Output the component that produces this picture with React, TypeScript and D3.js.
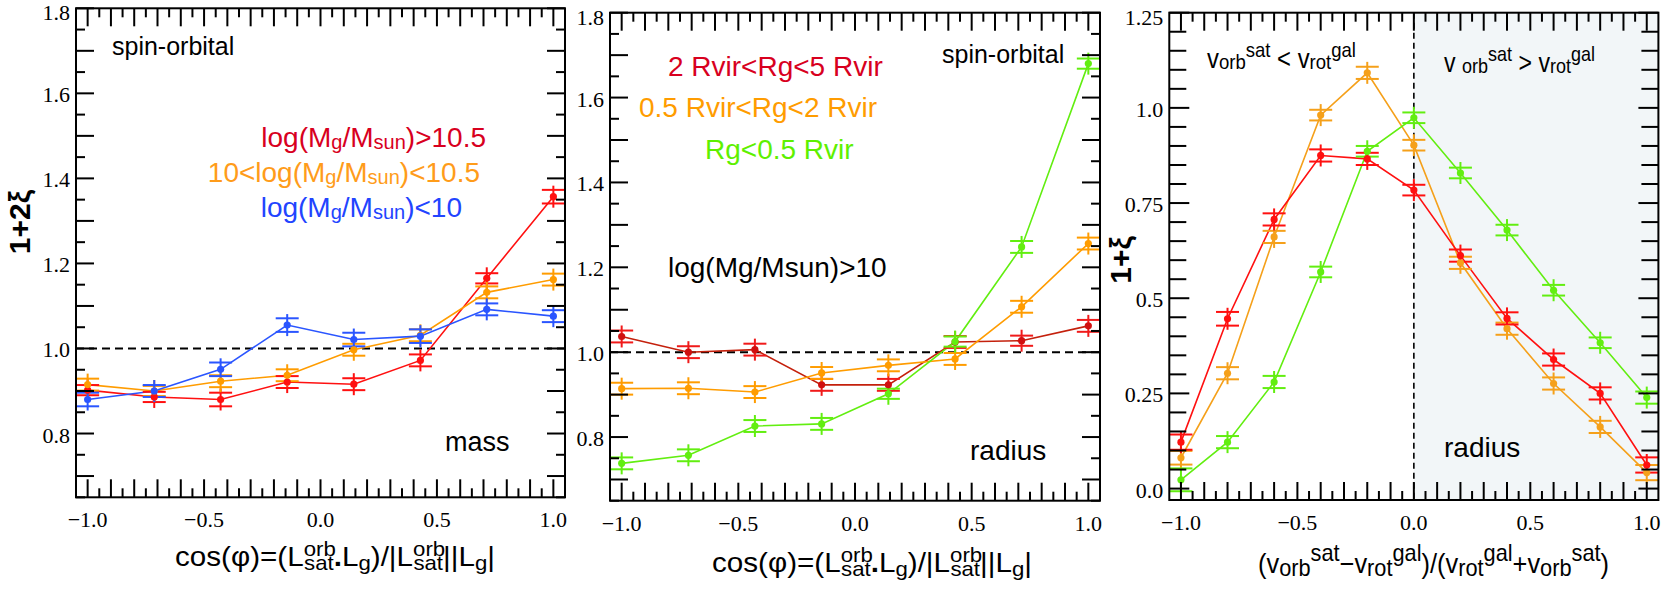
import React from "react";
import * as d3 from "d3";

// ---------- data ----------
const cosX = [-1.0, -0.714, -0.429, -0.143, 0.143, 0.429, 0.714, 1.0];

const massHigh = [0.902, 0.886, 0.88, 0.921, 0.916, 0.972, 1.165, 1.357];
const massHighErr = [0.012, 0.012, 0.016, 0.014, 0.014, 0.014, 0.012, 0.016];
const massMid = [0.915, 0.9, 0.923, 0.937, 0.997, 1.031, 1.132, 1.162];
const massMidErr = [0.014, 0.012, 0.014, 0.014, 0.014, 0.014, 0.014, 0.014];
const massLow = [0.88, 0.9, 0.951, 1.055, 1.021, 1.029, 1.092, 1.076];
const massLowErr = [0.016, 0.014, 0.016, 0.016, 0.016, 0.016, 0.014, 0.014];

const radOuter = [1.037, 1.0, 1.006, 0.923, 0.923, 1.024, 1.027, 1.062];
const radOuterErr = [0.014, 0.014, 0.014, 0.014, 0.014, 0.014, 0.012, 0.014];
const radMid = [0.914, 0.915, 0.906, 0.951, 0.969, 0.984, 1.107, 1.256];
const radMidErr = [0.014, 0.014, 0.014, 0.014, 0.014, 0.014, 0.014, 0.014];
const radInner = [0.738, 0.757, 0.826, 0.831, 0.902, 1.025, 1.248, 1.68];
const radInnerErr = [0.014, 0.014, 0.014, 0.014, 0.012, 0.012, 0.014, 0.012];

const velX = [-1.0, -0.8, -0.6, -0.4, -0.2, 0.0, 0.2, 0.4, 0.6, 0.8, 1.0];
const velOuter = [0.122, 0.446, 0.707, 0.875, 0.866, 0.784, 0.612, 0.447, 0.339, 0.25, 0.062];
const velOuterErr = [0.02, 0.018, 0.016, 0.016, 0.016, 0.014, 0.016, 0.016, 0.016, 0.016, 0.02];
const velMid = [0.081, 0.303, 0.661, 0.981, 1.092, 0.902, 0.593, 0.42, 0.276, 0.162, 0.042];
const velMidErr = [0.018, 0.016, 0.016, 0.014, 0.016, 0.014, 0.016, 0.016, 0.016, 0.016, 0.02];
const velInner = [0.023, 0.122, 0.28, 0.569, 0.886, 0.974, 0.829, 0.679, 0.521, 0.383, 0.239];
const velInnerErr = [0.03, 0.016, 0.016, 0.014, 0.014, 0.014, 0.014, 0.014, 0.014, 0.014, 0.016];

const xTickLabels = [-1.0, -0.5, 0.0, 0.5, 1.0];
const xiTickLabels = [0.8, 1.0, 1.2, 1.4, 1.6, 1.8];
const velTickLabels = [0.0, 0.25, 0.5, 0.75, 1.0, 1.25];

// ---------- styles ----------
const SANS = "'Liberation Sans', Arial, sans-serif";
const SERIF = "'Liberation Serif', 'Times New Roman', serif";

type Box = { l: number; r: number; t: number; b: number };
type Ser = { x: number[]; y: number[]; e: number[]; line: string; bar: string; dot: string };
type Seg = { t: string; s?: number; sh?: number; dx?: number; b?: boolean };

function Rich(props: {
  x: number; y: number; segs: Seg[]; size: number; fill?: string;
  anchor?: string; family?: string; weight?: string; transform?: string; len?: number;
}) {
  let prev = 0;
  return (
    <text
      x={props.x}
      y={props.y}
      fontSize={props.size}
      fill={props.fill ?? "#000"}
      textAnchor={props.anchor ?? "start"}
      fontFamily={props.family ?? SANS}
      fontWeight={props.weight}
      transform={props.transform}
      textLength={props.len}
      lengthAdjust={props.len ? "spacingAndGlyphs" : undefined}
      style={{ whiteSpace: "pre" }}
    >
      {props.segs.map((g, i) => {
        const sh = g.sh ?? 0;
        const dy = sh - prev;
        prev = sh;
        return (
          <tspan key={i} dy={dy} dx={g.dx} fontSize={g.s} fontWeight={g.b ? "bold" : undefined}>
            {g.t}
          </tspan>
        );
      })}
    </text>
  );
}

const fmt1 = d3.format(".1f");
const fmtVel = (v: number) => (Math.abs(v * 10 - Math.round(v * 10)) < 1e-6 ? d3.format(".1f")(v) : d3.format(".2f")(v));

function Panel(props: {
  box: Box;
  yDom: [number, number];
  ser: Ser[];
  yTicks: number[];
  yMajor: (v: number) => boolean;
  yLabels: number[];
  yFmt: (v: number) => string;
  yMajorLen: number;
  yMinorLen: number;
  refY?: number;
  refX?: number;
  shadeFrom?: number;
  children?: React.ReactNode;
}) {
  const { box } = props;
  const x = d3.scaleLinear().domain([-1.05, 1.05]).range([box.l, box.r]);
  const y = d3.scaleLinear().domain(props.yDom).range([box.b, box.t]);
  const xTicks = d3.range(-20, 21).map((i) => i * 0.05);
  const xMajor = (i: number) => i % 2 === 0;
  const line = d3
    .line<[number, number]>()
    .x((d) => x(d[0]))
    .y((d) => y(d[1]));
  const halfW = 11.5;
  const halfV = 11;
  return (
    <g>
      {props.shadeFrom !== undefined && (
        <rect x={x(props.shadeFrom)} y={box.t} width={box.r - x(props.shadeFrom)} height={box.b - box.t} fill="#f2f6f8" />
      )}
      {props.refY !== undefined && (
        <line x1={box.l} x2={box.r} y1={y(props.refY)} y2={y(props.refY)} stroke="#000" strokeWidth={2} strokeDasharray="8,5" />
      )}
      {props.refX !== undefined && (
        <line x1={x(props.refX)} x2={x(props.refX)} y1={box.t} y2={box.b} stroke="#000" strokeWidth={1.6} strokeDasharray="6,4" />
      )}
      {props.ser.map((s, k) => (
        <path key={"l" + k} d={line(s.x.map((v, i) => [v, s.y[i]] as [number, number])) ?? ""} fill="none" stroke={s.line} strokeWidth={1.6} />
      ))}
      {props.ser.map((s, k) => (
        <g key={"e" + k} stroke={s.bar} strokeWidth={2}>
          {s.x.map((v, i) => {
            const cx = x(v);
            const cy = y(s.y[i]);
            const hi = y(s.y[i] + s.e[i]);
            const lo = y(s.y[i] - s.e[i]);
            return (
              <g key={i}>
                <line x1={cx} x2={cx} y1={cy - halfV} y2={cy + halfV} />
                <line x1={cx - halfW} x2={cx + halfW} y1={hi} y2={hi} />
                <line x1={cx - halfW} x2={cx + halfW} y1={lo} y2={lo} />
              </g>
            );
          })}
        </g>
      ))}
      {props.ser.map((s, k) => (
        <g key={"d" + k} fill={s.dot}>
          {s.x.map((v, i) => (
            <circle key={i} cx={x(v)} cy={y(s.y[i])} r={3.6} />
          ))}
        </g>
      ))}
      {props.children}
      {/* frame and ticks */}
      <g stroke="#000" strokeWidth={2}>
        <rect x={box.l} y={box.t} width={box.r - box.l} height={box.b - box.t} fill="none" />
        {xTicks.map((v, i) => {
          const len = xMajor(i) ? 18 : 9;
          const px = x(v);
          return (
            <g key={"xt" + i}>
              <line x1={px} x2={px} y1={box.b} y2={box.b - len} />
              <line x1={px} x2={px} y1={box.t} y2={box.t + len} />
            </g>
          );
        })}
        {props.yTicks.map((v, i) => {
          const len = props.yMajor(v) ? props.yMajorLen : props.yMinorLen;
          const py = y(v);
          return (
            <g key={"yt" + i}>
              <line x1={box.l} x2={box.l + len} y1={py} y2={py} />
              <line x1={box.r} x2={box.r - len} y1={py} y2={py} />
            </g>
          );
        })}
      </g>
      <g fontFamily={SERIF} fontSize={22} fill="#000">
        {xTickLabels.map((v, i) => (
          <text key={"xl" + i} x={x(v)} y={box.b + 30} textAnchor="middle">
            {fmt1(v)}
          </text>
        ))}
        {props.yLabels.map((v, i) => (
          <text key={"yl" + i} x={box.l - 6} y={Math.max(y(v) + 9, box.t + 12)} textAnchor="end">
            {props.yFmt(v)}
          </text>
        ))}
      </g>
    </g>
  );
}

const P1: Box = { l: 76, r: 565, t: 8.3, b: 497.3 };
const P2: Box = { l: 610, r: 1100, t: 12.7, b: 500.7 };
const P3: Box = { l: 1169.3, r: 1658.4, t: 12.7, b: 500 };

const xiTicks = d3.range(13, 37).map((i) => +(i * 0.05).toFixed(2));
const xiMajor = (v: number) => Math.round(v * 20) % 2 === 0;
const velTicks = d3.range(0, 26).map((i) => +(i * 0.05).toFixed(2));
const velMajor = (v: number) => Math.round(v * 20) % 5 === 0;

const RED = "#ff1010";
const ORANGE = "#ff9c00";
const BLUE = "#2a55ff";
const GREEN = "#62ee10";

const cosTitle = (x: number, y: number) => (
  <Rich
    x={x}
    y={y}
    size={28}
    len={320}
    segs={[
      { t: "cos(φ)=(L" },
      { t: "orb", s: 21, sh: -10 },
      { t: "sat", s: 21, sh: 4, dx: -30 },
      { t: ".", b: true },
      { t: "L" },
      { t: "g", s: 21, sh: 4 },
      { t: ")/|L" },
      { t: "orb", s: 21, sh: -10 },
      { t: "sat", s: 21, sh: 4, dx: -30 },
      { t: "||L" },
      { t: "g", s: 21, sh: 4 },
      { t: "|" },
    ]}
  />
);

export default function App() {
  const ser1: Ser[] = [
    { x: cosX, y: massHigh, e: massHighErr, line: RED, bar: RED, dot: RED },
    { x: cosX, y: massMid, e: massMidErr, line: ORANGE, bar: ORANGE, dot: ORANGE },
    { x: cosX, y: massLow, e: massLowErr, line: BLUE, bar: BLUE, dot: BLUE },
  ];
  const ser2: Ser[] = [
    { x: cosX, y: radOuter, e: radOuterErr, line: "#c4200c", bar: "#f01a1a", dot: "#d01010" },
    { x: cosX, y: radMid, e: radMidErr, line: ORANGE, bar: ORANGE, dot: ORANGE },
    { x: cosX, y: radInner, e: radInnerErr, line: GREEN, bar: GREEN, dot: GREEN },
  ];
  const ser3: Ser[] = [
    { x: velX, y: velMid, e: velMidErr, line: "#f5a01a", bar: "#f5a01a", dot: "#f5a01a" },
    { x: velX, y: velInner, e: velInnerErr, line: GREEN, bar: GREEN, dot: GREEN },
    { x: velX, y: velOuter, e: velOuterErr, line: RED, bar: RED, dot: RED },
  ];
  return (
    <svg
      width={1661}
      height={599}
      viewBox="0 0 1661 599"
      style={{ position: "fixed", left: 0, top: 0, background: "#fff" }}
    >
      <rect x={0} y={0} width={1661} height={599} fill="#fff" />
      <Panel
        box={P1}
        yDom={[0.65, 1.8]}
        ser={ser1}
        yTicks={xiTicks}
        yMajor={xiMajor}
        yLabels={xiTickLabels}
        yFmt={fmt1}
        yMajorLen={18}
        yMinorLen={9}
        refY={1.0}
      >
        <text x={112} y={55} fontFamily={SANS} fontSize={25}>spin-orbital</text>
        <text x={445} y={451} fontFamily={SANS} fontSize={27}>mass</text>
        <Rich x={486} y={147} size={28} anchor="end" fill="#d8001e"
          segs={[{ t: "log(M" }, { t: "g", s: 20, sh: 2 }, { t: "/M" }, { t: "sun", s: 20, sh: 2 }, { t: ")>10.5" }]} />
        <Rich x={480} y={182} size={28} anchor="end" fill="#ff9c1a"
          segs={[{ t: "10<log(M" }, { t: "g", s: 20, sh: 2 }, { t: "/M" }, { t: "sun", s: 20, sh: 2 }, { t: ")<10.5" }]} />
        <Rich x={462} y={217} size={28} anchor="end" fill="#2244ff"
          segs={[{ t: "log(M" }, { t: "g", s: 20, sh: 2 }, { t: "/M" }, { t: "sun", s: 20, sh: 2 }, { t: ")<10" }]} />
      </Panel>
      <Panel
        box={P2}
        yDom={[0.65, 1.8]}
        ser={ser2}
        yTicks={xiTicks}
        yMajor={xiMajor}
        yLabels={xiTickLabels}
        yFmt={fmt1}
        yMajorLen={18}
        yMinorLen={9}
        refY={1.0}
      >
        <text x={942} y={63} fontFamily={SANS} fontSize={25}>spin-orbital</text>
        <text x={970} y={460} fontFamily={SANS} fontSize={28}>radius</text>
        <text x={668} y={76} fontFamily={SANS} fontSize={28} fill="#d8001e">2 Rvir&lt;Rg&lt;5 Rvir</text>
        <text x={639} y={117} fontFamily={SANS} fontSize={28} fill="#ff9c00">0.5 Rvir&lt;Rg&lt;2 Rvir</text>
        <text x={705} y={159} fontFamily={SANS} fontSize={28} fill="#5ef000">Rg&lt;0.5 Rvir</text>
        <text x={668} y={277} fontFamily={SANS} fontSize={28}>log(Mg/Msun)&gt;10</text>
      </Panel>
      <Panel
        box={P3}
        yDom={[-0.03, 1.25]}
        ser={ser3}
        yTicks={velTicks}
        yMajor={velMajor}
        yLabels={velTickLabels}
        yFmt={fmtVel}
        yMajorLen={20}
        yMinorLen={17}
        refX={0.0}
        shadeFrom={0.0}
      >
        <text x={1444} y={457} fontFamily={SANS} fontSize={28}>radius</text>
        <Rich x={1207} y={68} size={27} len={149}
          segs={[{ t: "v" }, { t: "orb", s: 21, sh: 1 }, { t: "sat", s: 21, sh: -11 }, { t: " < v", sh: 0 }, { t: "rot", s: 21, sh: 1 }, { t: "gal", s: 21, sh: -11 }]} />
        <Rich x={1444} y={72} size={27} len={151}
          segs={[{ t: "v " }, { t: "orb", s: 21, sh: 1 }, { t: "sat", s: 21, sh: -11 }, { t: " > v", sh: 0 }, { t: "rot", s: 21, sh: 1 }, { t: "gal", s: 21, sh: -11 }]} />
      </Panel>
      {/* axis titles */}
      {cosTitle(175, 566)}
      {cosTitle(712, 572)}
      <Rich x={1258} y={573} size={28} len={351}
        segs={[
          { t: "(v" }, { t: "orb", s: 24, sh: 3 }, { t: "sat", s: 24, sh: -12 }, { t: "−v", sh: 0 }, { t: "rot", s: 24, sh: 3 }, { t: "gal", s: 24, sh: -12 },
          { t: ")/(v", sh: 0 }, { t: "rot", s: 24, sh: 3 }, { t: "gal", s: 24, sh: -12 }, { t: "+v", sh: 0 }, { t: "orb", s: 24, sh: 3 }, { t: "sat", s: 24, sh: -12 }, { t: ")", sh: 0 },
        ]} />
      <text transform="translate(30,222) rotate(-90)" textAnchor="middle" fontFamily={SANS} fontSize={30} fontWeight="bold">1+2ξ</text>
      <text transform="translate(1131,260) rotate(-90)" textAnchor="middle" fontFamily={SANS} fontSize={30} fontWeight="bold">1+ξ</text>
    </svg>
  );
}
